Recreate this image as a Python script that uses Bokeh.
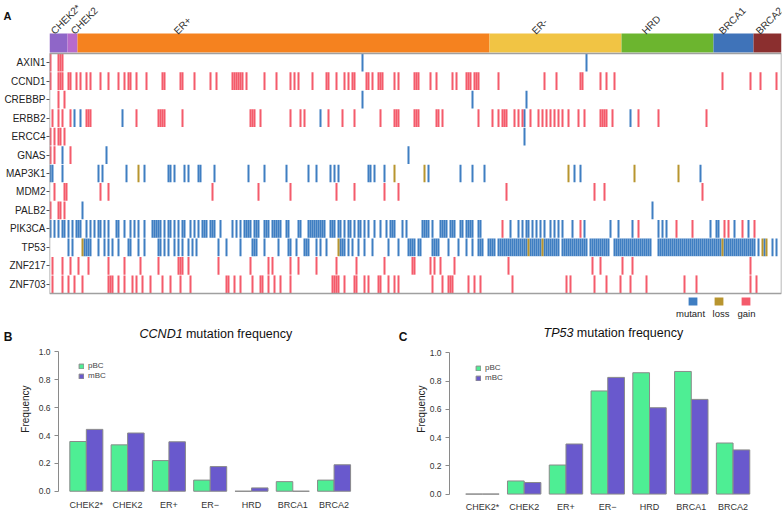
import math
from bokeh.plotting import figure
from bokeh.layouts import column, row
from bokeh.models import (ColumnDataSource, Range1d, FixedTicker, Legend, LegendItem,
                          LinearAxis)
from bokeh.embed import file_html
from bokeh.resources import INLINE
from bokeh.core.properties import value

FONT = "Liberation Sans"

# ---------------- Panel A data (sample indices; tuples are inclusive ranges) -------------
genes = ["AXIN1", "CCND1", "CREBBP", "ERBB2", "ERCC4", "GNAS", "MAP3K1",
         "MDM2", "PALB2", "PIK3CA", "TP53", "ZNF217", "ZNF703"]
group_names = ["CHEK2*", "CHEK2", "ER+", "ER-", "HRD", "BRCA1", "BRCA2"]
group_sizes = [9, 5, 206, 66, 46, 20, 14]
group_colors = ["#8F66C8", "#B86ACB", "#F5821F", "#F1C444", "#6CB52F", "#3F73B9", "#8B2F2F"]

AXIN1_mutant = [156, 268]
AXIN1_gain = [0, 4, 5, 6]
CCND1_gain = [0, (4, 6), 9, 10, 13, 15, 18, 20, 25, 29, 34, 37, 39, 40, 43, 48, 56, 57, 65, 66, 72,
              80, 83, (91, 96), 98, 107, 113, 120, 122, 124, 131, 138, 139, 143, 147, 149, 151, 152,
              158, 159, 161, (164, 166), 172, 174, (182, 184), 190, 193, 201, 203, (208, 210), 212,
              213, 214, 224, 247, 253, 265, 266, 275, 278, 282, 336, 350, 355, 363]
CREBBP_mutant = [156, 211, 238]
CREBBP_gain = [4, 7]
ERBB2_mutant = [12, 15, 36, 135, 237, 290]
ERBB2_gain = [1, 4, 6, 10, (18, 20), 43, (54, 57), 66, (100, 102), 105, 120, 125, 127, 139, 146, 152,
              165, (172, 174), (182, 184), 193, 194, 196, 214, 221, 224, (226, 228), 232, 234, 236,
              240, 244, 246, 248, 250, 252, 254, 256, 259, 264, 267, (275, 278), 281, 294, 304, 328]
ERCC4_mutant = [237]
ERCC4_gain = [0, 2, 4, 5, 7]
GNAS_mutant = [6, 28, 179]
GNAS_gain = [0, 2, 10]
MAP3K1_mutant = [0, 1, 6, 24, 26, 38, 47, 59, 60, 62, 67, 69, 74, 75, 82, 99, 107, 118, 129, 133,
                 140, 142, 144, 159, 160, 162, 167, 189, 205, 211, 217, 262, 265, 325]
MAP3K1_loss = [44, 172, 187, 259, 292, 314]
MDM2_gain = [2, 7, 8, 25, 29, 81, 104, 120, 143, 152, 167, 174, 228, 272, 277, 326]
PALB2_mutant = [16, 301]
PALB2_gain = [0, 4, 5, 7]
PIK3CA_mutant = [0, 2, 4, 6, 7, 9, 11, 13, 14, 15, 18, 20, 22, 24, 25, 27, 29, 33, 34, 37, 40, 42,
                 44, 47, (51, 55), 57, 59, 60, 62, 64, 66, 67, 70, 72, 74, (76, 78), (80, 82), 85, 91,
                 93, 95, (97, 100), (102, 104), (107, 109), (111, 115), 118, 119, 124, 125, (129, 137),
                 (140, 142), 144, 145, 147, 149, 150, 152, 154, 155, 157, 159, 162, 165, 168,
                 (170, 172), 176, 178, (186, 189), 191, (195, 198), (200, 202), 205, 206, 208, 209,
                 210, 211, 214, 215, 230, 234, 236, 238, 239, 241, 243, 245, 247, 250, 252, 254, 256,
                 261, 267, 280, 284, 291, 304, 306, 308, 330, 333, 334, 342, 349]
PIK3CA_gain = [226, 265, 294, 313, 321, 337, 339, 346, 352]
TP53_mutant = [9, 11, (17, 20), 24, 27, 29, 31, 34, 39, 40, 44, 47, 54, 55, 57, 59, 62, 64, 66, 69,
               71, 73, 84, 88, 95, (101, 103), 107, 114, 119, 120, 123, (127, 129), 133, 135, 138,
               (145, 147), 149, 151, 154, 157, 161, 169, 174, (179, 182), 184, 185, (191, 194), 199,
               204, 208, 211, (214, 216), (219, 222), (224, 238), (240, 245), (247, 251), (252, 254),
               (256, 263), (264, 268), (270, 279), (282, 289), (290, 300), (304, 310), (311, 314),
               (315, 326), (327, 333), (334, 335), (337, 343), (344, 352), 354, 357, 361, 363]
TP53_loss = [16, 144, 239, 246, 336, 356, 358]
ZNF217_gain = [1, 6, 10, 14, 19, 29, 37, 45, 54, (64, 66), 69, 84, 100, 109, 111, 120, 124, 133, 143,
               153, 167, 181, 182, 190, 192, 195, 202, 229, 271, 275, 286, 291, 350]
ZNF703_gain = [1, 6, 9, 12, 16, (29, 31), 34, 37, 41, 43, 46, 50, 56, 60, 65, 70, 88, 89, 92, 95,
               101, 105, 106, 109, 112, 115, 120, (141, 144), 147, 152, 153, 157, 159, 164, 165, 169,
               172, 174, 191, 196, (199, 201), 209, 212, 215, 231, 258, 260, 272, 278, 285, 290, 298,
               317, 323, 350, 353]

alteration_types = ["mutant", "loss", "gain"]
alteration_colors = {"mutant": "#3F7EC2", "loss": "#B8952F", "gain": "#F45B6B"}

# ---------------- Panels B / C data ---------------
freq_groups = ["CHEK2*", "CHEK2", "ER+", "ER\u2212", "HRD", "BRCA1", "BRCA2"]
ccnd1_pBC = [0.357, 0.333, 0.220, 0.080, 0.0, 0.069, 0.080]
ccnd1_mBC = [0.444, 0.418, 0.355, 0.177, 0.024, 0.0, 0.190]
tp53_pBC = [0.0, 0.093, 0.206, 0.731, 0.860, 0.869, 0.362]
tp53_mBC = [0.0, 0.082, 0.355, 0.827, 0.612, 0.671, 0.313]
pBC_color = "#4EEE94"
mBC_color = "#6959CD"


def expand(spec):
    out = []
    for s in spec:
        if isinstance(s, tuple):
            out.extend(range(s[0], s[1] + 1))
        else:
            out.append(s)
    return out


def letter_axis(p, letter, frame_top, frame_bottom, at, standoff, size):
    p.extra_y_ranges = {"px": Range1d(start=frame_bottom, end=frame_top)}
    ax = LinearAxis(y_range_name="px", ticker=FixedTicker(ticks=[at]),
                    major_label_overrides={at: letter})
    ax.axis_line_color = None
    ax.major_tick_line_color = None
    ax.minor_tick_line_color = None
    ax.major_tick_out = 0
    ax.major_tick_in = 0
    ax.major_label_standoff = standoff
    ax.major_label_text_font = FONT
    ax.major_label_text_font_size = size
    ax.major_label_text_font_style = "bold"
    ax.major_label_text_color = "#111111"
    p.add_layout(ax, "left")


N = sum(group_sizes)
ns = globals()

# ---------------- Panel A figure ---------------
row_px = 240 / 13.0


def u(ref_y):
    return -0.5 + (ref_y - 53) / row_px


pA = figure(width=784, height=322, output_backend="svg", toolbar_location=None,
            x_range=Range1d(0, N), y_range=Range1d(start=u(322), end=u(0)),
            x_axis_location=None, min_border_left=49, min_border_right=3,
            min_border_top=0, min_border_bottom=0)
pA.outline_line_color = None
pA.grid.visible = False

cells = dict(left=[], right=[], top=[], bottom=[], color=[])
for gi, g in enumerate(genes):
    for t in alteration_types:
        name = f"{g}_{t}"
        if name in ns:
            for s in expand(ns[name]):
                cells["left"].append(s)
                cells["right"].append(s + 1)
                cells["top"].append(gi - 0.48)
                cells["bottom"].append(gi + 0.48)
                cells["color"].append(alteration_colors[t])
pA.quad(left="left", right="right", top="top", bottom="bottom", fill_color="color",
        line_color=None, source=ColumnDataSource(cells))

starts = [sum(group_sizes[:i]) for i in range(len(group_sizes))]
ends = [s + w for s, w in zip(starts, group_sizes)]
pA.quad(left=starts, right=ends, top=[u(33)] * 7, bottom=[u(52)] * 7,
        fill_color=group_colors, line_color=None)

label_offsets = [1.5, 2.5, 49, 22, 11, 3.5, 2]
lab_x = [s + o for s, o in zip(starts, label_offsets)]
pA.text(x=lab_x, y=[u(32)] * 7, text=group_names, angle=math.pi / 4,
        text_font=value(FONT), text_font_size="10px", text_align="left",
        text_baseline="alphabetic", text_color="#333333")

pA.quad(left=0, right=N, top=-0.5, bottom=len(genes) - 0.5, fill_color=None,
        line_color="#a0a0a0", line_width=1.5)

leg_x = [N - 44.25, N - 31.25, N - 17.75]
leg_text_x = [N - 45.5, N - 30.25, N - 17.5]
hw = 2.2
pA.quad(left=[x - hw for x in leg_x], right=[x + hw for x in leg_x],
        top=[u(297)] * 3, bottom=[u(305)] * 3,
        fill_color=[alteration_colors[t] for t in alteration_types], line_color=None)
pA.text(x=leg_text_x, y=[u(313)] * 3, text=alteration_types, text_font=value(FONT),
        text_font_size="9.5px", text_align="center", text_baseline="middle", text_color="#222222")

pA.yaxis.ticker = FixedTicker(ticks=list(range(len(genes))))
pA.yaxis.major_label_overrides = {i: g for i, g in enumerate(genes)}
pA.yaxis.axis_line_color = None
pA.yaxis.major_tick_in = 0
pA.yaxis.major_tick_out = 3
pA.yaxis.major_tick_line_color = "#555555"
pA.yaxis.minor_tick_line_color = None
pA.yaxis.major_label_standoff = 1
pA.yaxis.major_label_text_font = FONT
pA.yaxis.major_label_text_font_size = "10px"
pA.yaxis.major_label_text_color = "#222222"

letter_axis(pA, "A", 0, 322, 15, -10, "11px")


# ---------------- Panels B / C ---------------
def bar_panel(width, border_l, border_r, border_b, xr, yr, pbc, mbc,
              gene, split_x, title_y, letter, letter_standoff, leg_loc, label_standoff,
              axis_label_standoff):
    p = figure(width=width, height=192, output_backend="svg", toolbar_location=None,
               x_range=Range1d(*xr), y_range=Range1d(*yr),
               min_border_left=border_l, min_border_right=border_r,
               min_border_top=0, min_border_bottom=border_b)
    p.outline_line_color = None
    p.grid.visible = False
    n = len(freq_groups)
    gx = [5 * i for i in range(n)]
    r1 = p.quad(left=gx, right=[x + 2 for x in gx], bottom=[0] * n, top=pbc,
                fill_color=pBC_color, line_color="#8a8a8a", line_width=1)
    r2 = p.quad(left=[x + 2 for x in gx], right=[x + 4 for x in gx], bottom=[0] * n, top=mbc,
                fill_color=mBC_color, line_color="#8a8a8a", line_width=1)
    leg = Legend(items=[LegendItem(label="pBC", renderers=[r1]),
                        LegendItem(label="mBC", renderers=[r2])],
                 location=leg_loc, glyph_width=6, glyph_height=6, label_height=9,
                 label_text_font=FONT, label_text_font_size="8px", label_standoff=4,
                 spacing=1, padding=0, margin=0, border_line_color=None,
                 background_fill_alpha=0)
    p.add_layout(leg)
    p.xaxis.ticker = FixedTicker(ticks=[x + 2 for x in gx])
    p.xaxis.major_label_overrides = {x + 2: g for x, g in zip(gx, freq_groups)}
    p.xaxis.axis_line_color = None
    p.xaxis.major_tick_line_color = None
    p.xaxis.minor_tick_line_color = None
    p.xaxis.major_tick_out = 0
    p.xaxis.major_tick_in = 0
    p.xaxis.major_label_standoff = label_standoff
    p.xaxis.major_label_text_font = FONT
    p.xaxis.major_label_text_font_size = "9px"
    p.xaxis.major_label_text_color = "#333333"

    p.yaxis.ticker = FixedTicker(ticks=[0, 0.2, 0.4, 0.6, 0.8, 1.0])
    p.yaxis.major_label_overrides = {0: "0.0", 0.2: "0.2", 0.4: "0.4", 0.6: "0.6",
                                     0.8: "0.8", 1: "1.0"}
    p.yaxis.bounds = (0, 1)
    p.yaxis.axis_line_color = "#8a8a8a"
    p.yaxis.major_tick_line_color = "#8a8a8a"
    p.yaxis.minor_tick_line_color = None
    p.yaxis.major_tick_in = 0
    p.yaxis.major_tick_out = 4
    p.yaxis.major_label_standoff = 4
    p.yaxis.major_label_text_font = FONT
    p.yaxis.major_label_text_font_size = "8.5px"
    p.yaxis.major_label_text_color = "#333333"
    p.yaxis.axis_label = "Frequency"
    p.yaxis.axis_label_text_font = FONT
    p.yaxis.axis_label_text_font_size = "10px"
    p.yaxis.axis_label_text_font_style = "normal"
    p.yaxis.axis_label_text_color = "#222222"
    p.yaxis.axis_label_standoff = axis_label_standoff

    p.text(x=[split_x], y=[title_y], text=[gene], text_font=value(FONT),
           text_font_size="12.5px", text_font_style="italic", text_align="right",
           text_baseline="middle", text_color="#111111")
    p.text(x=[split_x + 0.4], y=[title_y], text=["mutation frequency"], text_font=value(FONT),
           text_font_size="12.5px", text_align="left", text_baseline="middle",
           text_color="#111111")
    letter_axis(p, letter, 322, 514 - border_b, 337, letter_standoff, "12px")
    return p


pB = bar_panel(390, 58, 30, 17, (-1.37, 35.2), (-0.0305, 1.211), ccnd1_pBC, ccnd1_mBC,
               "CCND1", 13.66, 1.125, "B", 4, (20, 115), 4, 5)
pC = bar_panel(394, 59, 14, 17, (-1.94, 36.48), (-0.01, 1.216), tp53_pBC, tp53_mBC,
               "TP53", 12.9, 1.140, "C", 5, (26, 113), 6, 0)

layout = column(pA, row(pB, pC))
open("out.html", "w").write(file_html(layout, INLINE))
